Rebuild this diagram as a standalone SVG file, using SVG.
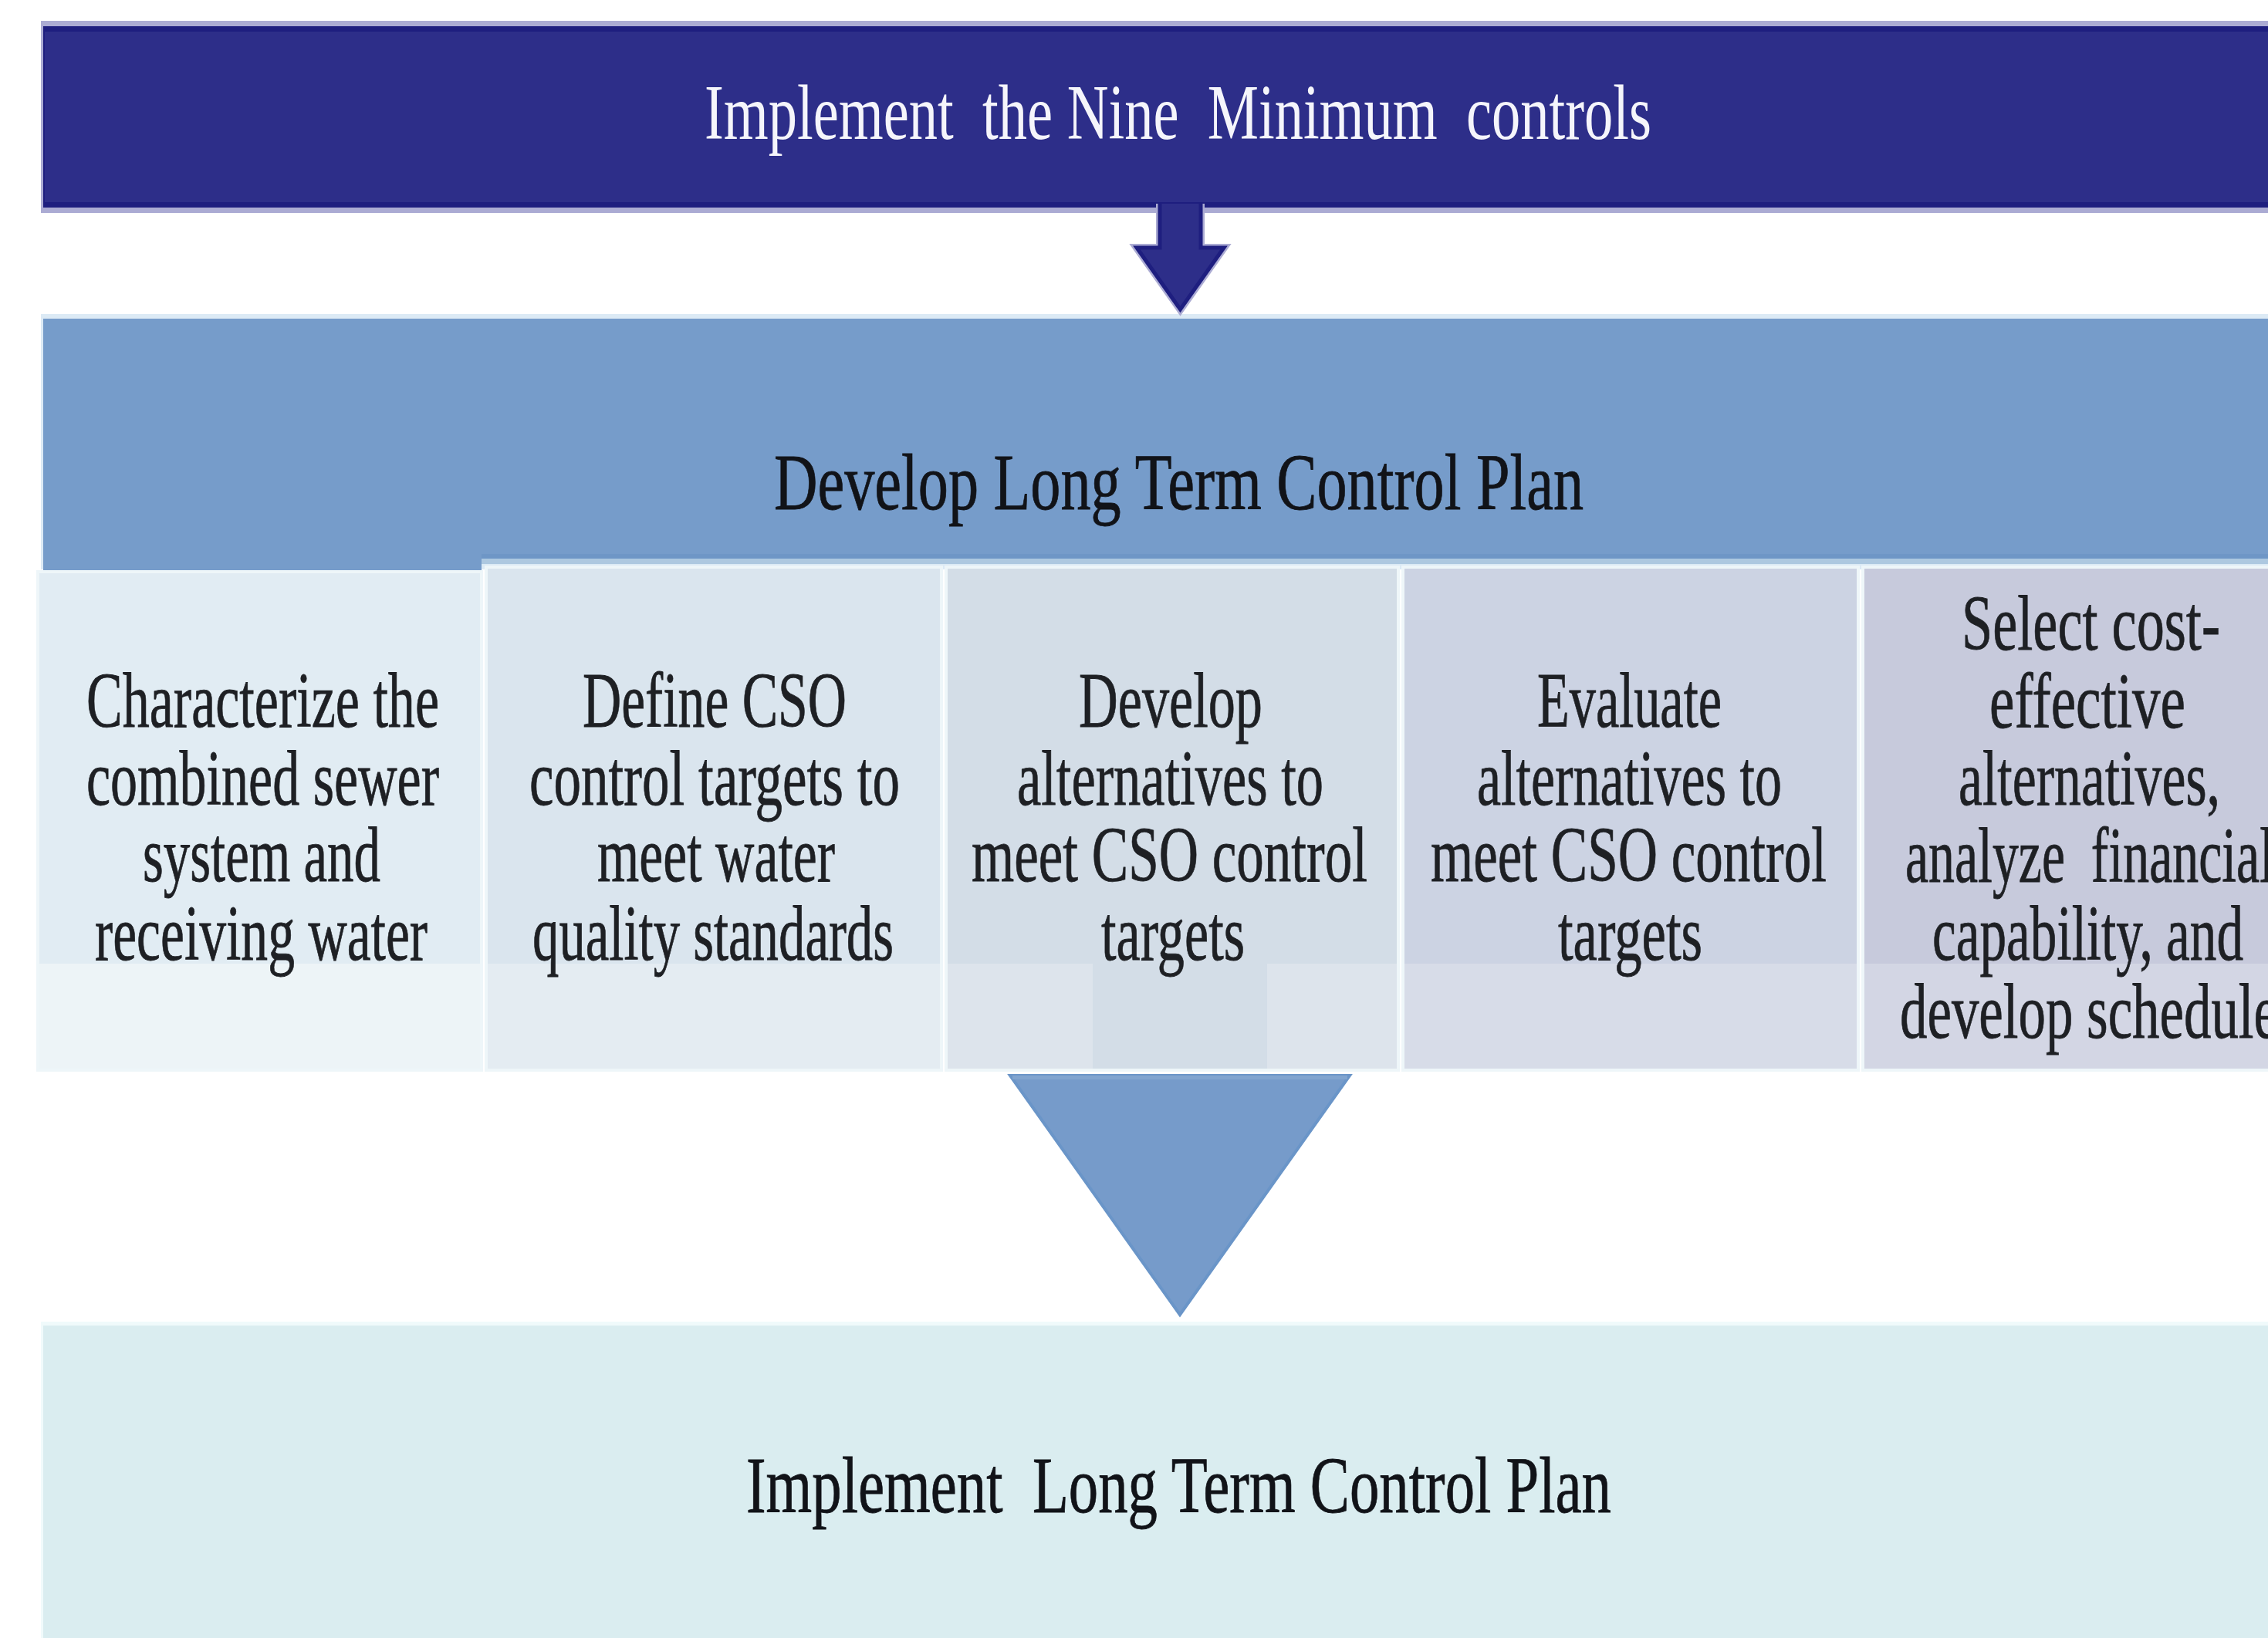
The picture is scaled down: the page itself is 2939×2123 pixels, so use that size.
<svg xmlns="http://www.w3.org/2000/svg" width="2939" height="2123" viewBox="0 0 2939 2123">
<style>
  .serif { font-family: "Liberation Serif", "Times New Roman", serif; }
  .title-w { fill: #F5F5FB; font-size: 101px; }
  .title-k { fill: #111318; font-size: 103px; stroke: #111318; stroke-width: 0.8; }
  .step { fill: #1E2024; font-size: 101px; stroke: #1E2024; stroke-width: 0.8; }
  .col { stroke: #EEF6F9; stroke-width: 4; }
</style>
<rect x="0" y="0" width="2939" height="2123" fill="#FFFFFF"/>

<g id="top-bar">
  <rect x="53" y="27" width="2900" height="249" fill="#ABABD3"/>
  <rect x="56" y="34" width="2900" height="235" fill="#1E1E7F"/>
  <rect x="58" y="41" width="2900" height="221" fill="#2D2E89"/>
  <text class="serif title-w" x="913" y="180" textLength="1227" lengthAdjust="spacingAndGlyphs">Implement&#160; the Nine&#160; Minimum&#160; controls</text>
</g>

<g id="ltcp-band">
  <rect x="53" y="407" width="2900" height="331" fill="#DCEAF5"/>
  <rect x="56" y="413" width="2900" height="305" fill="#769CCA"/>
  <rect x="56" y="718" width="2900" height="6" fill="#6E96C6"/>
  <rect x="56" y="724" width="2900" height="7" fill="#ADC8E0"/>
  <rect x="56" y="718" width="568" height="21" fill="#769CCA"/>
  <text class="serif title-k" x="1003" y="660" textLength="1049" lengthAdjust="spacingAndGlyphs">Develop Long Term Control Plan</text>
</g>

<g id="step-1">
  <rect class="col" x="49" y="741" width="575" height="646" fill="#E1ECF3"/>
  <rect x="51" y="1249" width="571" height="136" fill="#EDF4F7"/>
  <text class="serif step" x="112" y="942" textLength="457" lengthAdjust="spacingAndGlyphs">Characterize the</text>
  <text class="serif step" x="112" y="1043" textLength="457" lengthAdjust="spacingAndGlyphs">combined sewer</text>
  <text class="serif step" x="185" y="1142" textLength="308" lengthAdjust="spacingAndGlyphs">system and</text>
  <text class="serif step" x="123" y="1244" textLength="431" lengthAdjust="spacingAndGlyphs">receiving water</text>
</g>

<g id="step-2">
  <rect class="col" x="630" y="735" width="590" height="652" fill="#DAE5EE"/>
  <rect x="632" y="1249" width="586" height="136" fill="#E4ECF2"/>
  <text class="serif step" x="755" y="942" textLength="342" lengthAdjust="spacingAndGlyphs">Define CSO</text>
  <text class="serif step" x="686" y="1043" textLength="480" lengthAdjust="spacingAndGlyphs">control targets to</text>
  <text class="serif step" x="774" y="1142" textLength="308" lengthAdjust="spacingAndGlyphs">meet water</text>
  <text class="serif step" x="690" y="1244" textLength="468" lengthAdjust="spacingAndGlyphs">quality standards</text>
</g>

<g id="step-3">
  <rect class="col" x="1226" y="735" width="586" height="652" fill="#D3DDE7"/>
  <rect x="1228" y="1249" width="188" height="136" fill="#DDE4EC"/>
  <rect x="1642" y="1249" width="168" height="136" fill="#DDE4EC"/>
  <text class="serif step" x="1398" y="942" textLength="238" lengthAdjust="spacingAndGlyphs">Develop</text>
  <text class="serif step" x="1318" y="1043" textLength="397" lengthAdjust="spacingAndGlyphs">alternatives to</text>
  <text class="serif step" x="1259" y="1142" textLength="513" lengthAdjust="spacingAndGlyphs">meet CSO control</text>
  <text class="serif step" x="1427" y="1244" textLength="186" lengthAdjust="spacingAndGlyphs">targets</text>
</g>

<g id="step-4">
  <rect class="col" x="1818" y="735" width="590" height="652" fill="#CCD3E3"/>
  <rect x="1820" y="1249" width="586" height="136" fill="#D7DCE8"/>
  <text class="serif step" x="1992" y="942" textLength="239" lengthAdjust="spacingAndGlyphs">Evaluate</text>
  <text class="serif step" x="1914" y="1043" textLength="395" lengthAdjust="spacingAndGlyphs">alternatives to</text>
  <text class="serif step" x="1854" y="1142" textLength="513" lengthAdjust="spacingAndGlyphs">meet CSO control</text>
  <text class="serif step" x="2019" y="1244" textLength="187" lengthAdjust="spacingAndGlyphs">targets</text>
</g>

<g id="step-5">
  <rect class="col" x="2414" y="735" width="600" height="652" fill="#C7CADC"/>
  <rect x="2416" y="1249" width="596" height="136" fill="#D3D6E4"/>
  <text class="serif step" x="2542" y="842" textLength="335" lengthAdjust="spacingAndGlyphs">Select cost-</text>
  <text class="serif step" x="2578" y="943" textLength="254" lengthAdjust="spacingAndGlyphs">effective</text>
  <text class="serif step" x="2538" y="1043" textLength="339" lengthAdjust="spacingAndGlyphs">alternatives,</text>
  <text class="serif step" x="2469" y="1143" textLength="478" lengthAdjust="spacingAndGlyphs">analyze&#160; financial</text>
  <text class="serif step" x="2504" y="1244" textLength="403" lengthAdjust="spacingAndGlyphs">capability, and</text>
  <text class="serif step" x="2462" y="1345" textLength="490" lengthAdjust="spacingAndGlyphs">develop schedule</text>
</g>

<g id="implement-band">
  <rect x="53" y="1713" width="2900" height="420" fill="#F0FAFB"/>
  <rect x="56" y="1718" width="2900" height="420" fill="#DAEDF0"/>
  <text class="serif title-k" x="967" y="1960" textLength="1121" lengthAdjust="spacingAndGlyphs">Implement&#160; Long Term Control Plan</text>
</g>

<g id="connectors">
  <path d="M1503,264 L1503,321 L1473,321 L1529.5,401 L1586,321 L1556,321 L1556,264" fill="none" stroke="#ABABD3" stroke-width="10" stroke-linejoin="miter"/>
  <path d="M1503,264 L1503,321 L1473,321 L1529.5,401 L1586,321 L1556,321 L1556,264" fill="#2D2E89" stroke="#1E1E7F" stroke-width="5" stroke-linejoin="miter"/>
  <polygon points="1309,1394 1749,1394 1529,1704" fill="#769BCA" stroke="#6A95C8" stroke-width="4" stroke-linejoin="miter"/>
  <rect x="1312" y="1394" width="434" height="5" fill="#80A4CF"/>
</g>
</svg>
